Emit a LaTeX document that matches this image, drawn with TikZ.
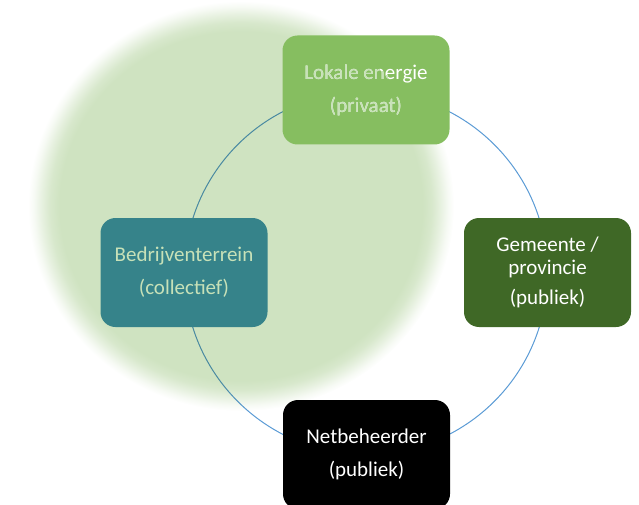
\documentclass[tikz,border=0pt]{standalone}
\usepackage{fontspec}
\setmainfont{Carlito}

\definecolor{blobgreen}{RGB}{207,227,193}
\definecolor{boxlight}{RGB}{134,190,96}
\definecolor{boxteal}{RGB}{54,131,138}
\definecolor{boxdark}{RGB}{63,104,38}
\definecolor{paletext}{RGB}{199,225,184}
\definecolor{ringblue}{RGB}{91,155,213}

% soft-edged green disc: flat colour that fades to white at the rim
\pgfdeclareradialshading{blobshade}{\pgfpoint{0bp}{0bp}}{%
  color(0bp)=(blobgreen); color(21.3bp)=(blobgreen);
  color(22.4bp)=(blobgreen!82!white); color(23.4bp)=(blobgreen!50!white);
  color(24.3bp)=(blobgreen!18!white); color(25bp)=(white); color(50bp)=(white)}

\newcommand{\blobregion}{(241,206) ellipse [x radius=199, y radius=191]}

\tikzset{
  card/.style={rounded corners=15pt, minimum width=167pt, minimum height=109pt,
    inner sep=0pt, align=center, text=white,
    font=\fontsize{21}{33}\selectfont},
  label/.style={inner sep=0pt, align=center,
    font=\fontsize{21}{33}\selectfont},
  ring/.style={ringblue, line width=1pt},
}

\begin{document}
\begin{tikzpicture}[x=1pt, y=-1pt]
\useasboundingbox (0,0) rectangle (639,505);

% background glow
\shade[shading=blobshade] (241,206) ellipse [x radius=213, y radius=205];

% the cycle joining the four parties
\coordinate (hub) at (366,273);
\begin{scope}[blend mode=multiply]
  \draw[ring] (hub) circle [radius=181.5];
\end{scope}

% parties
\node[card, fill=boxlight] (local) at (366,90) {};
\node[card, fill=boxteal, text=paletext] (park) at (184,272.5)
  {Bedrijventerrein\\(collectief)};
\node[card, fill=boxdark] (gov) at (547.5,272.5)
  {Gemeente /\\[-10pt]provincie\\[-3pt](publiek)};
\node[card, fill=black] (grid) at (366.5,454.5)
  {Netbeheerder\\(publiek)};

% label of the top card: white, tinted where the glow lies over it
\node[label, text=white] at (local) {Lokale energie\\(privaat)};
\begin{scope}
  \clip \blobregion;
  \node[label, text=paletext] at (local) {Lokale energie\\(privaat)};
\end{scope}
\end{tikzpicture}
\end{document}
